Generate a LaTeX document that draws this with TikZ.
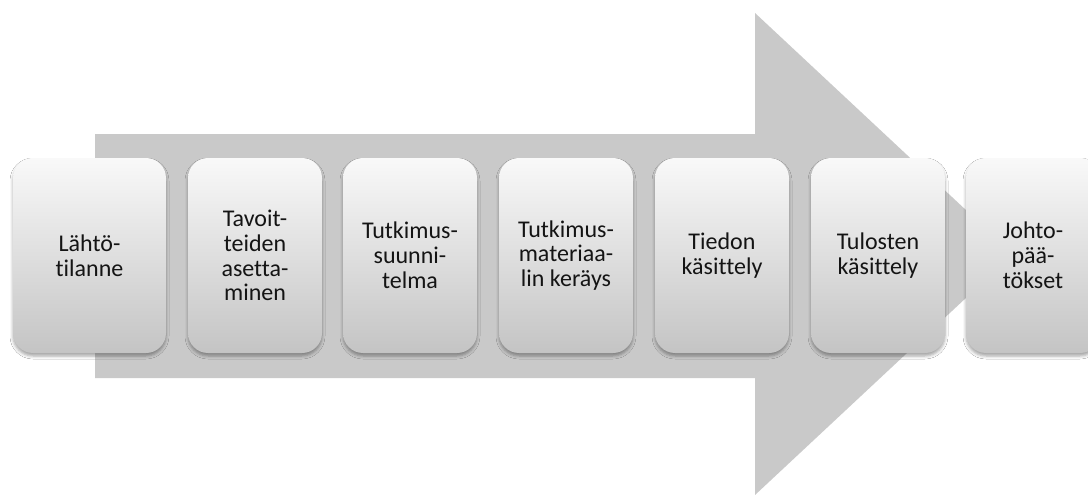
\documentclass[tikz,border=0pt]{standalone}
\usepackage{fontspec}
\setmainfont{Carlito}[Ligatures={NoCommon}]
\usetikzlibrary{shadows.blur}
\definecolor{arrowgray}{RGB}{201,201,201}
\definecolor{boxtop}{RGB}{249,249,249}
\definecolor{boxbottom}{RGB}{196,196,196}
\definecolor{labeltext}{RGB}{20,20,20}
\tikzset{
  stage/.style={
    rounded corners=20pt, minimum width=134pt, minimum height=195pt,
    inner sep=0pt, align=center, text=labeltext,
    top color=boxtop, bottom color=boxbottom,
    font=\fontsize{24}{24.8}\selectfont,
    blur shadow={shadow xshift=0pt, shadow yshift=-3pt,
                 shadow blur radius=3pt, shadow opacity=35}
  }
}
\begin{document}
\begin{tikzpicture}[x=1pt,y=-1pt]
  \clip (0,0) rectangle (1088,495);
  \fill[white] (0,0) rectangle (1088,495);
  % large background arrow
  \fill[arrowgray] (95,134) -- (755,134) -- (755,13) -- (1013,254)
                   -- (755,495) -- (755,378) -- (95,378) -- cycle;
  % process stages
  \node[stage, minimum width=153pt] (s1) at (89.5,255.5) {Lähtö-\\tilanne};
  \node[stage] (s2) at (255,255.5) {Tavoit-\\teiden\\asetta-\\minen};
  \node[stage] (s3) at (410,255.5) {Tutkimus-\\suunni-\\telma};
  \node[stage] (s4) at (566,255.5) {Tutkimus-\\materiaa-\\lin keräys};
  \node[stage] (s5) at (722,255.5) {Tiedon\\käsittely};
  \node[stage] (s6) at (878,255.5) {Tulosten\\käsittely};
  \node[stage] (s7) at (1033,255.5) {Johto-\\pää-\\tökset};
\end{tikzpicture}
\end{document}
